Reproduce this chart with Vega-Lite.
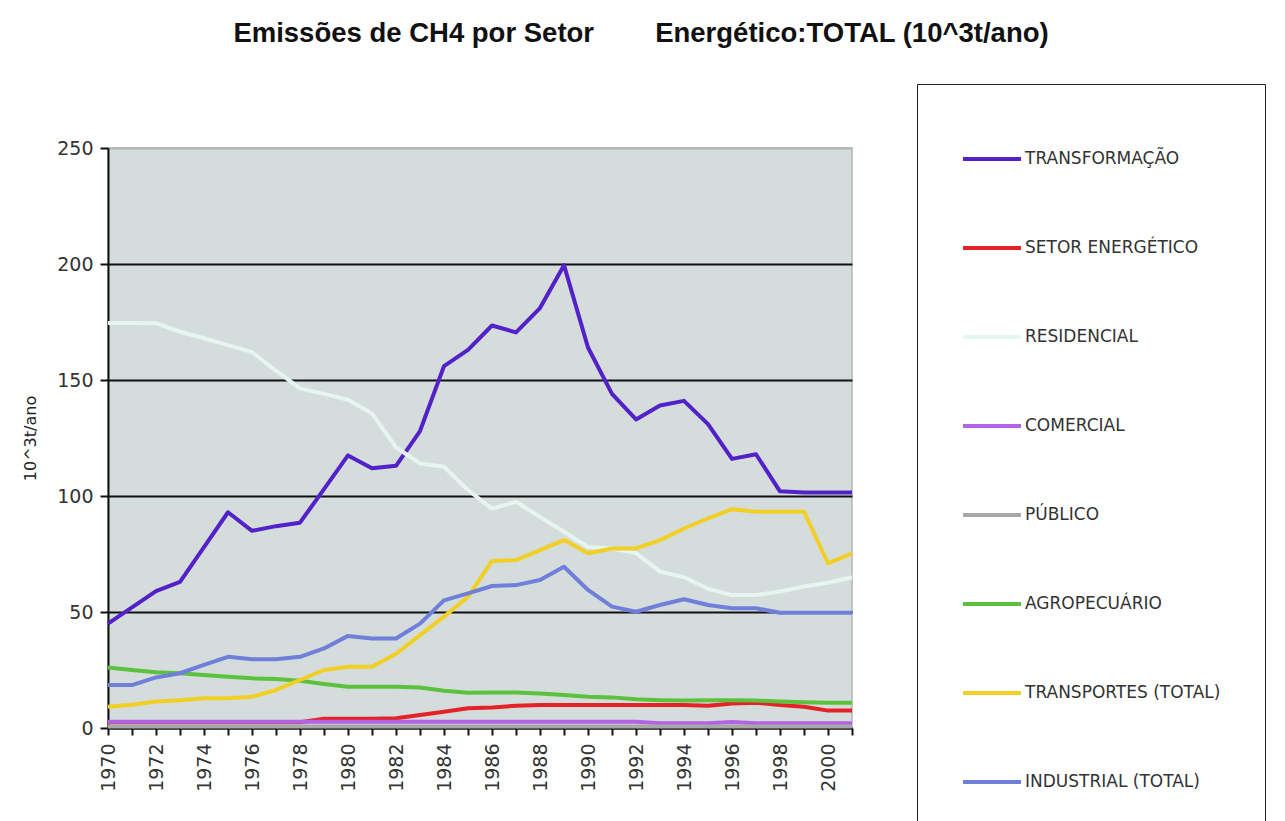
{
  "$schema": "https://vega.github.io/schema/vega-lite/v6.json",
  "width": 744,
  "height": 580,
  "autosize": "none",
  "padding": {"left": 108, "top": 148, "right": 433, "bottom": 93},
  "background": "white",
  "title": {
    "text": "Emissões de CH4 por Setor\u00a0\u00a0\u00a0\u00a0\u00a0\u00a0\u00a0\u00a0Energético:TOTAL (10^3t/ano)",
    "anchor": "middle",
    "frame": "group",
    "dx": 161,
    "offset": 36,
    "font": "Liberation Sans",
    "fontSize": 27.5,
    "fontWeight": "bold",
    "color": "#111"
  },
  "config": {
    "view": {"fill": "#d5dcdc", "stroke": "#b4b4b4", "strokeWidth": 1.5},
    "axis": {"labelFont": "DejaVu Sans", "titleFont": "DejaVu Sans", "labelColor": "#333", "titleColor": "#222", "domainColor": "#111", "tickColor": "#111", "domainWidth": 2, "tickWidth": 2}
  },
  "data": {"values": [
    {"ano":1970,"setor":"TRANSFORMAÇÃO","valor":45},{"ano":1971,"setor":"TRANSFORMAÇÃO","valor":52},{"ano":1972,"setor":"TRANSFORMAÇÃO","valor":59},{"ano":1973,"setor":"TRANSFORMAÇÃO","valor":63},{"ano":1974,"setor":"TRANSFORMAÇÃO","valor":78},{"ano":1975,"setor":"TRANSFORMAÇÃO","valor":93},{"ano":1976,"setor":"TRANSFORMAÇÃO","valor":85},{"ano":1977,"setor":"TRANSFORMAÇÃO","valor":87},{"ano":1978,"setor":"TRANSFORMAÇÃO","valor":88.5},{"ano":1979,"setor":"TRANSFORMAÇÃO","valor":103},{"ano":1980,"setor":"TRANSFORMAÇÃO","valor":117.5},{"ano":1981,"setor":"TRANSFORMAÇÃO","valor":112},{"ano":1982,"setor":"TRANSFORMAÇÃO","valor":113},{"ano":1983,"setor":"TRANSFORMAÇÃO","valor":128},{"ano":1984,"setor":"TRANSFORMAÇÃO","valor":156},{"ano":1985,"setor":"TRANSFORMAÇÃO","valor":163},{"ano":1986,"setor":"TRANSFORMAÇÃO","valor":173.5},{"ano":1987,"setor":"TRANSFORMAÇÃO","valor":170.5},{"ano":1988,"setor":"TRANSFORMAÇÃO","valor":181},{"ano":1989,"setor":"TRANSFORMAÇÃO","valor":199.5},{"ano":1990,"setor":"TRANSFORMAÇÃO","valor":164},{"ano":1991,"setor":"TRANSFORMAÇÃO","valor":144},{"ano":1992,"setor":"TRANSFORMAÇÃO","valor":133},{"ano":1993,"setor":"TRANSFORMAÇÃO","valor":139},{"ano":1994,"setor":"TRANSFORMAÇÃO","valor":141},{"ano":1995,"setor":"TRANSFORMAÇÃO","valor":131},{"ano":1996,"setor":"TRANSFORMAÇÃO","valor":116},{"ano":1997,"setor":"TRANSFORMAÇÃO","valor":118},{"ano":1998,"setor":"TRANSFORMAÇÃO","valor":102},{"ano":1999,"setor":"TRANSFORMAÇÃO","valor":101.5},{"ano":2000,"setor":"TRANSFORMAÇÃO","valor":101.5},{"ano":2001,"setor":"TRANSFORMAÇÃO","valor":101.5},
    {"ano":1970,"setor":"SETOR ENERGÉTICO","valor":2.5},{"ano":1971,"setor":"SETOR ENERGÉTICO","valor":2.5},{"ano":1972,"setor":"SETOR ENERGÉTICO","valor":2.5},{"ano":1973,"setor":"SETOR ENERGÉTICO","valor":2.5},{"ano":1974,"setor":"SETOR ENERGÉTICO","valor":2.5},{"ano":1975,"setor":"SETOR ENERGÉTICO","valor":2.5},{"ano":1976,"setor":"SETOR ENERGÉTICO","valor":2.5},{"ano":1977,"setor":"SETOR ENERGÉTICO","valor":2.5},{"ano":1978,"setor":"SETOR ENERGÉTICO","valor":2.5},{"ano":1979,"setor":"SETOR ENERGÉTICO","valor":4},{"ano":1980,"setor":"SETOR ENERGÉTICO","valor":4},{"ano":1981,"setor":"SETOR ENERGÉTICO","valor":4},{"ano":1982,"setor":"SETOR ENERGÉTICO","valor":4.2},{"ano":1983,"setor":"SETOR ENERGÉTICO","valor":5.6},{"ano":1984,"setor":"SETOR ENERGÉTICO","valor":7},{"ano":1985,"setor":"SETOR ENERGÉTICO","valor":8.5},{"ano":1986,"setor":"SETOR ENERGÉTICO","valor":8.8},{"ano":1987,"setor":"SETOR ENERGÉTICO","valor":9.6},{"ano":1988,"setor":"SETOR ENERGÉTICO","valor":9.9},{"ano":1989,"setor":"SETOR ENERGÉTICO","valor":9.9},{"ano":1990,"setor":"SETOR ENERGÉTICO","valor":9.9},{"ano":1991,"setor":"SETOR ENERGÉTICO","valor":9.9},{"ano":1992,"setor":"SETOR ENERGÉTICO","valor":9.9},{"ano":1993,"setor":"SETOR ENERGÉTICO","valor":9.9},{"ano":1994,"setor":"SETOR ENERGÉTICO","valor":9.9},{"ano":1995,"setor":"SETOR ENERGÉTICO","valor":9.6},{"ano":1996,"setor":"SETOR ENERGÉTICO","valor":10.6},{"ano":1997,"setor":"SETOR ENERGÉTICO","valor":10.9},{"ano":1998,"setor":"SETOR ENERGÉTICO","valor":9.9},{"ano":1999,"setor":"SETOR ENERGÉTICO","valor":9.2},{"ano":2000,"setor":"SETOR ENERGÉTICO","valor":7.5},{"ano":2001,"setor":"SETOR ENERGÉTICO","valor":7.5},
    {"ano":1970,"setor":"RESIDENCIAL","valor":174.6},{"ano":1971,"setor":"RESIDENCIAL","valor":174.6},{"ano":1972,"setor":"RESIDENCIAL","valor":174.5},{"ano":1973,"setor":"RESIDENCIAL","valor":170.8},{"ano":1974,"setor":"RESIDENCIAL","valor":168},{"ano":1975,"setor":"RESIDENCIAL","valor":165},{"ano":1976,"setor":"RESIDENCIAL","valor":162},{"ano":1977,"setor":"RESIDENCIAL","valor":154},{"ano":1978,"setor":"RESIDENCIAL","valor":146.4},{"ano":1979,"setor":"RESIDENCIAL","valor":144},{"ano":1980,"setor":"RESIDENCIAL","valor":141.5},{"ano":1981,"setor":"RESIDENCIAL","valor":135.6},{"ano":1982,"setor":"RESIDENCIAL","valor":121},{"ano":1983,"setor":"RESIDENCIAL","valor":114},{"ano":1984,"setor":"RESIDENCIAL","valor":112.6},{"ano":1985,"setor":"RESIDENCIAL","valor":102.6},{"ano":1986,"setor":"RESIDENCIAL","valor":94.5},{"ano":1987,"setor":"RESIDENCIAL","valor":97.5},{"ano":1988,"setor":"RESIDENCIAL","valor":91},{"ano":1989,"setor":"RESIDENCIAL","valor":84.6},{"ano":1990,"setor":"RESIDENCIAL","valor":78},{"ano":1991,"setor":"RESIDENCIAL","valor":77.4},{"ano":1992,"setor":"RESIDENCIAL","valor":75.4},{"ano":1993,"setor":"RESIDENCIAL","valor":67.4},{"ano":1994,"setor":"RESIDENCIAL","valor":65},{"ano":1995,"setor":"RESIDENCIAL","valor":60},{"ano":1996,"setor":"RESIDENCIAL","valor":57.3},{"ano":1997,"setor":"RESIDENCIAL","valor":57.3},{"ano":1998,"setor":"RESIDENCIAL","valor":58.8},{"ano":1999,"setor":"RESIDENCIAL","valor":61},{"ano":2000,"setor":"RESIDENCIAL","valor":62.6},{"ano":2001,"setor":"RESIDENCIAL","valor":65},
    {"ano":1970,"setor":"COMERCIAL","valor":2.7},{"ano":1971,"setor":"COMERCIAL","valor":2.7},{"ano":1972,"setor":"COMERCIAL","valor":2.7},{"ano":1973,"setor":"COMERCIAL","valor":2.7},{"ano":1974,"setor":"COMERCIAL","valor":2.7},{"ano":1975,"setor":"COMERCIAL","valor":2.7},{"ano":1976,"setor":"COMERCIAL","valor":2.7},{"ano":1977,"setor":"COMERCIAL","valor":2.7},{"ano":1978,"setor":"COMERCIAL","valor":2.7},{"ano":1979,"setor":"COMERCIAL","valor":2.7},{"ano":1980,"setor":"COMERCIAL","valor":2.7},{"ano":1981,"setor":"COMERCIAL","valor":2.7},{"ano":1982,"setor":"COMERCIAL","valor":2.7},{"ano":1983,"setor":"COMERCIAL","valor":2.7},{"ano":1984,"setor":"COMERCIAL","valor":2.7},{"ano":1985,"setor":"COMERCIAL","valor":2.7},{"ano":1986,"setor":"COMERCIAL","valor":2.7},{"ano":1987,"setor":"COMERCIAL","valor":2.7},{"ano":1988,"setor":"COMERCIAL","valor":2.7},{"ano":1989,"setor":"COMERCIAL","valor":2.7},{"ano":1990,"setor":"COMERCIAL","valor":2.7},{"ano":1991,"setor":"COMERCIAL","valor":2.7},{"ano":1992,"setor":"COMERCIAL","valor":2.7},{"ano":1993,"setor":"COMERCIAL","valor":2.0},{"ano":1994,"setor":"COMERCIAL","valor":2.0},{"ano":1995,"setor":"COMERCIAL","valor":2.0},{"ano":1996,"setor":"COMERCIAL","valor":2.6},{"ano":1997,"setor":"COMERCIAL","valor":2.0},{"ano":1998,"setor":"COMERCIAL","valor":2.0},{"ano":1999,"setor":"COMERCIAL","valor":2.0},{"ano":2000,"setor":"COMERCIAL","valor":2.0},{"ano":2001,"setor":"COMERCIAL","valor":2.0},
    {"ano":1970,"setor":"PÚBLICO","valor":0.6},{"ano":1971,"setor":"PÚBLICO","valor":0.6},{"ano":1972,"setor":"PÚBLICO","valor":0.6},{"ano":1973,"setor":"PÚBLICO","valor":0.6},{"ano":1974,"setor":"PÚBLICO","valor":0.6},{"ano":1975,"setor":"PÚBLICO","valor":0.6},{"ano":1976,"setor":"PÚBLICO","valor":0.6},{"ano":1977,"setor":"PÚBLICO","valor":0.6},{"ano":1978,"setor":"PÚBLICO","valor":0.6},{"ano":1979,"setor":"PÚBLICO","valor":0.6},{"ano":1980,"setor":"PÚBLICO","valor":0.6},{"ano":1981,"setor":"PÚBLICO","valor":0.6},{"ano":1982,"setor":"PÚBLICO","valor":0.6},{"ano":1983,"setor":"PÚBLICO","valor":0.6},{"ano":1984,"setor":"PÚBLICO","valor":0.6},{"ano":1985,"setor":"PÚBLICO","valor":0.6},{"ano":1986,"setor":"PÚBLICO","valor":0.6},{"ano":1987,"setor":"PÚBLICO","valor":0.6},{"ano":1988,"setor":"PÚBLICO","valor":0.6},{"ano":1989,"setor":"PÚBLICO","valor":0.6},{"ano":1990,"setor":"PÚBLICO","valor":0.6},{"ano":1991,"setor":"PÚBLICO","valor":0.6},{"ano":1992,"setor":"PÚBLICO","valor":0.6},{"ano":1993,"setor":"PÚBLICO","valor":0.6},{"ano":1994,"setor":"PÚBLICO","valor":0.6},{"ano":1995,"setor":"PÚBLICO","valor":0.6},{"ano":1996,"setor":"PÚBLICO","valor":0.6},{"ano":1997,"setor":"PÚBLICO","valor":0.6},{"ano":1998,"setor":"PÚBLICO","valor":0.6},{"ano":1999,"setor":"PÚBLICO","valor":0.6},{"ano":2000,"setor":"PÚBLICO","valor":0.6},{"ano":2001,"setor":"PÚBLICO","valor":0.6},
    {"ano":1970,"setor":"AGROPECUÁRIO","valor":26.1},{"ano":1971,"setor":"AGROPECUÁRIO","valor":25},{"ano":1972,"setor":"AGROPECUÁRIO","valor":24},{"ano":1973,"setor":"AGROPECUÁRIO","valor":23.6},{"ano":1974,"setor":"AGROPECUÁRIO","valor":22.8},{"ano":1975,"setor":"AGROPECUÁRIO","valor":22.1},{"ano":1976,"setor":"AGROPECUÁRIO","valor":21.4},{"ano":1977,"setor":"AGROPECUÁRIO","valor":21.1},{"ano":1978,"setor":"AGROPECUÁRIO","valor":20.4},{"ano":1979,"setor":"AGROPECUÁRIO","valor":19},{"ano":1980,"setor":"AGROPECUÁRIO","valor":17.8},{"ano":1981,"setor":"AGROPECUÁRIO","valor":17.8},{"ano":1982,"setor":"AGROPECUÁRIO","valor":17.8},{"ano":1983,"setor":"AGROPECUÁRIO","valor":17.5},{"ano":1984,"setor":"AGROPECUÁRIO","valor":16.1},{"ano":1985,"setor":"AGROPECUÁRIO","valor":15.2},{"ano":1986,"setor":"AGROPECUÁRIO","valor":15.3},{"ano":1987,"setor":"AGROPECUÁRIO","valor":15.3},{"ano":1988,"setor":"AGROPECUÁRIO","valor":14.9},{"ano":1989,"setor":"AGROPECUÁRIO","valor":14.2},{"ano":1990,"setor":"AGROPECUÁRIO","valor":13.5},{"ano":1991,"setor":"AGROPECUÁRIO","valor":13.2},{"ano":1992,"setor":"AGROPECUÁRIO","valor":12.4},{"ano":1993,"setor":"AGROPECUÁRIO","valor":12},{"ano":1994,"setor":"AGROPECUÁRIO","valor":11.8},{"ano":1995,"setor":"AGROPECUÁRIO","valor":12},{"ano":1996,"setor":"AGROPECUÁRIO","valor":12},{"ano":1997,"setor":"AGROPECUÁRIO","valor":11.8},{"ano":1998,"setor":"AGROPECUÁRIO","valor":11.4},{"ano":1999,"setor":"AGROPECUÁRIO","valor":11.1},{"ano":2000,"setor":"AGROPECUÁRIO","valor":10.9},{"ano":2001,"setor":"AGROPECUÁRIO","valor":10.9},
    {"ano":1970,"setor":"TRANSPORTES (TOTAL)","valor":9.2},{"ano":1971,"setor":"TRANSPORTES (TOTAL)","valor":10},{"ano":1972,"setor":"TRANSPORTES (TOTAL)","valor":11.4},{"ano":1973,"setor":"TRANSPORTES (TOTAL)","valor":12},{"ano":1974,"setor":"TRANSPORTES (TOTAL)","valor":12.8},{"ano":1975,"setor":"TRANSPORTES (TOTAL)","valor":12.8},{"ano":1976,"setor":"TRANSPORTES (TOTAL)","valor":13.5},{"ano":1977,"setor":"TRANSPORTES (TOTAL)","valor":16.4},{"ano":1978,"setor":"TRANSPORTES (TOTAL)","valor":20.7},{"ano":1979,"setor":"TRANSPORTES (TOTAL)","valor":25},{"ano":1980,"setor":"TRANSPORTES (TOTAL)","valor":26.4},{"ano":1981,"setor":"TRANSPORTES (TOTAL)","valor":26.4},{"ano":1982,"setor":"TRANSPORTES (TOTAL)","valor":32},{"ano":1983,"setor":"TRANSPORTES (TOTAL)","valor":40},{"ano":1984,"setor":"TRANSPORTES (TOTAL)","valor":48},{"ano":1985,"setor":"TRANSPORTES (TOTAL)","valor":56.6},{"ano":1986,"setor":"TRANSPORTES (TOTAL)","valor":72},{"ano":1987,"setor":"TRANSPORTES (TOTAL)","valor":72.4},{"ano":1988,"setor":"TRANSPORTES (TOTAL)","valor":76.7},{"ano":1989,"setor":"TRANSPORTES (TOTAL)","valor":81},{"ano":1990,"setor":"TRANSPORTES (TOTAL)","valor":75.3},{"ano":1991,"setor":"TRANSPORTES (TOTAL)","valor":77.4},{"ano":1992,"setor":"TRANSPORTES (TOTAL)","valor":77.4},{"ano":1993,"setor":"TRANSPORTES (TOTAL)","valor":81},{"ano":1994,"setor":"TRANSPORTES (TOTAL)","valor":86},{"ano":1995,"setor":"TRANSPORTES (TOTAL)","valor":90.4},{"ano":1996,"setor":"TRANSPORTES (TOTAL)","valor":94.3},{"ano":1997,"setor":"TRANSPORTES (TOTAL)","valor":93.2},{"ano":1998,"setor":"TRANSPORTES (TOTAL)","valor":93.2},{"ano":1999,"setor":"TRANSPORTES (TOTAL)","valor":93.2},{"ano":2000,"setor":"TRANSPORTES (TOTAL)","valor":71},{"ano":2001,"setor":"TRANSPORTES (TOTAL)","valor":75.3},
    {"ano":1970,"setor":"INDUSTRIAL (TOTAL)","valor":18.5},{"ano":1971,"setor":"INDUSTRIAL (TOTAL)","valor":18.5},{"ano":1972,"setor":"INDUSTRIAL (TOTAL)","valor":21.8},{"ano":1973,"setor":"INDUSTRIAL (TOTAL)","valor":23.6},{"ano":1974,"setor":"INDUSTRIAL (TOTAL)","valor":27.2},{"ano":1975,"setor":"INDUSTRIAL (TOTAL)","valor":30.7},{"ano":1976,"setor":"INDUSTRIAL (TOTAL)","valor":29.6},{"ano":1977,"setor":"INDUSTRIAL (TOTAL)","valor":29.6},{"ano":1978,"setor":"INDUSTRIAL (TOTAL)","valor":30.7},{"ano":1979,"setor":"INDUSTRIAL (TOTAL)","valor":34.3},{"ano":1980,"setor":"INDUSTRIAL (TOTAL)","valor":39.7},{"ano":1981,"setor":"INDUSTRIAL (TOTAL)","valor":38.6},{"ano":1982,"setor":"INDUSTRIAL (TOTAL)","valor":38.6},{"ano":1983,"setor":"INDUSTRIAL (TOTAL)","valor":45},{"ano":1984,"setor":"INDUSTRIAL (TOTAL)","valor":55},{"ano":1985,"setor":"INDUSTRIAL (TOTAL)","valor":58},{"ano":1986,"setor":"INDUSTRIAL (TOTAL)","valor":61.2},{"ano":1987,"setor":"INDUSTRIAL (TOTAL)","valor":61.6},{"ano":1988,"setor":"INDUSTRIAL (TOTAL)","valor":63.8},{"ano":1989,"setor":"INDUSTRIAL (TOTAL)","valor":69.5},{"ano":1990,"setor":"INDUSTRIAL (TOTAL)","valor":59.5},{"ano":1991,"setor":"INDUSTRIAL (TOTAL)","valor":52.3},{"ano":1992,"setor":"INDUSTRIAL (TOTAL)","valor":50.1},{"ano":1993,"setor":"INDUSTRIAL (TOTAL)","valor":53},{"ano":1994,"setor":"INDUSTRIAL (TOTAL)","valor":55.5},{"ano":1995,"setor":"INDUSTRIAL (TOTAL)","valor":53},{"ano":1996,"setor":"INDUSTRIAL (TOTAL)","valor":51.6},{"ano":1997,"setor":"INDUSTRIAL (TOTAL)","valor":51.6},{"ano":1998,"setor":"INDUSTRIAL (TOTAL)","valor":49.7},{"ano":1999,"setor":"INDUSTRIAL (TOTAL)","valor":49.7},{"ano":2000,"setor":"INDUSTRIAL (TOTAL)","valor":49.7},{"ano":2001,"setor":"INDUSTRIAL (TOTAL)","valor":49.7}
  ]},
  "mark": {"type": "line", "strokeJoin": "round"},
  "encoding": {
    "x": {
      "field": "ano", "type": "quantitative",
      "scale": {"domain": [1970, 2001], "nice": false, "zero": false},
      "axis": {
        "title": null,
        "values": [1970,1971,1972,1973,1974,1975,1976,1977,1978,1979,1980,1981,1982,1983,1984,1985,1986,1987,1988,1989,1990,1991,1992,1993,1994,1995,1996,1997,1998,1999,2000,2001],
        "labelExpr": "datum.value % 2 == 0 ? '' + datum.value : ''",
        "labelAngle": -90,
        "labelAlign": "right",
        "labelBaseline": "middle",
        "labelFontSize": 19,
        "labelPadding": 8,
        "tickSize": 7,
        "grid": false,
        "labelOverlap": false,
        "labelBound": false,
        "labelFlush": false
      }
    },
    "y": {
      "field": "valor", "type": "quantitative",
      "scale": {"domain": [0, 250], "nice": false},
      "axis": {
        "title": "10^3t/ano",
        "titleFontSize": 16,
        "titleFontWeight": "normal",
        "titlePadding": 18,
        "values": [0, 50, 100, 150, 200, 250],
        "labelFontSize": 19,
        "labelPadding": 7,
        "tickSize": 8,
        "grid": true,
        "gridColor": {"condition": {"test": "datum.value == 250", "value": "#b4b4b4"}, "value": "#111111"},
        "gridWidth": 2,
        "gridOpacity": 1
      }
    },
    "color": {
      "field": "setor", "type": "nominal",
      "scale": {
        "domain": ["TRANSFORMAÇÃO","SETOR ENERGÉTICO","RESIDENCIAL","COMERCIAL","PÚBLICO","AGROPECUÁRIO","TRANSPORTES (TOTAL)","INDUSTRIAL (TOTAL)"],
        "range": ["#5222c8","#e42228","#e6f5ee","#b462e6","#a8a8a8","#5cc23e","#f2cf24","#6f7fda"]
      },
      "legend": {
        "orient": "none",
        "legendX": 809,
        "legendY": -64,
        "title": null,
        "symbolType": "stroke",
        "symbolSize": 3364,
        "symbolStrokeWidth": 2.5,
        "labelFont": "DejaVu Sans",
        "labelFontSize": 17,
        "labelColor": "#333",
        "labelOffset": 2,
        "labelLimit": 400,
        "padding": 44,
        "rowPadding": 50,
        "strokeColor": "#222",
        "fillColor": "white"
      }
    },
    "strokeWidth": {
      "field": "setor", "type": "nominal", "legend": null,
      "scale": {
        "domain": ["TRANSFORMAÇÃO","SETOR ENERGÉTICO","RESIDENCIAL","COMERCIAL","PÚBLICO","AGROPECUÁRIO","TRANSPORTES (TOTAL)","INDUSTRIAL (TOTAL)"],
        "range": [4, 4, 3.5, 4.5, 1.5, 2.5, 4.5, 3.5]
      }
    }
  }
}
